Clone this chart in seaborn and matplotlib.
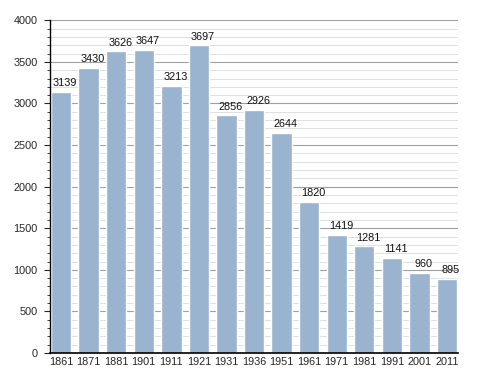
import numpy as np
import pandas as pd
import matplotlib
matplotlib.use("Agg")
import matplotlib.pyplot as plt
import seaborn as sns
from matplotlib.ticker import MultipleLocator

sns.set_theme(style="white")
plt.rcParams['font.family'] = ['Liberation Sans', 'DejaVu Sans']

years = ["1861", "1871", "1881", "1901", "1911", "1921", "1931", "1936",
         "1951", "1961", "1971", "1981", "1991", "2001", "2011"]
population = [3139, 3430, 3626, 3647, 3213, 3697, 2856, 2926,
              2644, 1820, 1419, 1281, 1141, 960, 895]

df = pd.DataFrame({"year": years, "pop": population})

fig = plt.figure(figsize=(4.88, 3.73), dpi=100)
ax = fig.add_axes([0.1025, 0.0536, 0.836, 0.892])

ax.yaxis.set_major_locator(MultipleLocator(500))
ax.yaxis.set_minor_locator(MultipleLocator(100))
ax.grid(which="major", axis="y", color="#a0a0a0", lw=0.8)
ax.grid(which="minor", axis="y", color="#e0e0e0", lw=0.7)
ax.set_axisbelow(True)

sns.barplot(data=df, x="year", y="pop", color="#9ab3cf", saturation=1,
            width=0.74, ax=ax)

for i, v in enumerate(population):
    ax.text(i + 0.15, v + 45, str(v), ha="center", va="bottom", fontsize=7.8, color="#111111")

ax.set_xlim(-0.4, len(years) - 0.6)
ax.set_ylim(0, 4000)
ax.set_xlabel("")
ax.set_ylabel("")
for s in ["top", "right"]:
    ax.spines[s].set_visible(False)
ax.spines["left"].set_color("black")
ax.spines["bottom"].set_color("black")
ax.spines["left"].set_linewidth(1)
ax.spines["bottom"].set_linewidth(1.2)
ax.tick_params(axis="y", which="major", left=True, length=4, width=0.8, labelsize=7.8, pad=5)
ax.tick_params(axis="y", which="minor", left=True, length=2.5, width=0.6)
ax.tick_params(axis="x", bottom=False, length=0, labelsize=7.8, pad=3)

fig.savefig("out.png", dpi=100)
